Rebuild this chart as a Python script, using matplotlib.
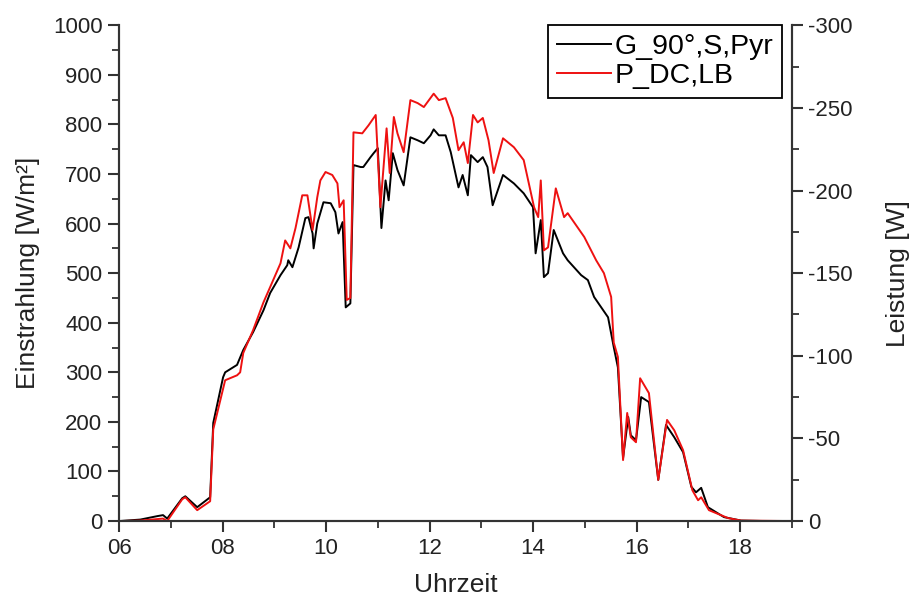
import matplotlib
matplotlib.use("Agg")
import matplotlib.pyplot as plt
from matplotlib.ticker import MultipleLocator, FuncFormatter

plt.rcParams['font.family'] = ['Liberation Sans', 'DejaVu Sans']

# G_90°,S,Pyr irradiance [W/m²]
t_g = [6.00, 6.41, 6.74, 6.85, 6.93, 7.22, 7.28, 7.51, 7.76, 7.82, 8.01, 8.05, 8.28, 8.40,
       8.59, 8.79, 8.92, 9.12, 9.25, 9.27, 9.35, 9.47, 9.60, 9.66, 9.74, 9.76, 9.83, 9.95,
       10.09, 10.18, 10.24, 10.32, 10.38, 10.47, 10.53, 10.67, 10.72, 10.86, 10.92, 11.00,
       11.07, 11.15, 11.21, 11.29, 11.38, 11.50, 11.63, 11.77, 11.89, 12.02, 12.08, 12.18,
       12.31, 12.41, 12.56, 12.64, 12.74, 12.80, 12.93, 13.03, 13.12, 13.22, 13.42, 13.63,
       13.82, 14.00, 14.05, 14.15, 14.21, 14.29, 14.40, 14.58, 14.67, 14.93, 15.06, 15.18,
       15.45, 15.56, 15.64, 15.74, 15.84, 15.89, 15.99, 16.09, 16.24, 16.42, 16.57, 16.73,
       16.90, 17.06, 17.15, 17.25, 17.38, 17.69, 18.02, 18.50, 19.00]
g_irr = [0, 3, 10, 12, 5, 46, 50, 28, 48, 198, 290, 300, 315, 345,
         381, 425, 460, 496, 516, 526, 512, 552, 611, 613, 580, 550, 600, 643,
         641, 623, 580, 603, 431, 439, 718, 714, 714, 734, 742, 752,
         591, 687, 647, 742, 708, 677, 774, 768, 762, 778, 790, 778,
         778, 744, 673, 698, 657, 738, 724, 734, 714, 637, 698, 681,
         661, 633, 540, 607, 492, 500, 587, 540, 526, 496, 486, 452,
         411, 351, 310, 127, 210, 173, 163, 250, 240, 83, 194, 169,
         139, 69, 58, 67, 28, 8, 1, 0, 0]

# P_DC,LB power [W]
t_p = [6.00, 6.41, 6.74, 6.85, 6.93, 7.22, 7.28, 7.51, 7.76, 7.82, 8.05, 8.28, 8.34, 8.40,
       8.59, 8.79, 8.92, 9.12, 9.21, 9.31, 9.41, 9.54, 9.64, 9.74, 9.83, 9.89, 9.99, 10.12,
       10.22, 10.26, 10.34, 10.40, 10.47, 10.53, 10.70, 10.82, 10.96, 11.05, 11.17, 11.23,
       11.31, 11.38, 11.50, 11.63, 11.77, 11.89, 12.08, 12.18, 12.31, 12.45, 12.56, 12.66,
       12.74, 12.84, 12.93, 13.03, 13.14, 13.24, 13.42, 13.63, 13.82, 14.02, 14.10, 14.15,
       14.21, 14.29, 14.44, 14.60, 14.67, 14.99, 15.22, 15.37, 15.51, 15.56, 15.64, 15.74,
       15.82, 15.89, 15.99, 16.07, 16.24, 16.42, 16.59, 16.73, 16.90, 17.08, 17.19, 17.25,
       17.40, 17.77, 18.02, 19.00]
p_dc = [0, -0.3, -1.2, -1.5, 0, -13.2, -14.4, -6.6, -12.0, -55.5, -85.2, -88.2, -90.0, -101.7,
        -115.5, -132.3, -141.6, -156.0, -169.8, -165.0, -177.3, -197.1, -197.1, -176.1, -195.9, -206.1, -211.2, -209.4,
        -204.3, -189.9, -194.1, -133.8, -135.0, -235.2, -234.6, -239.4, -245.7, -189.9, -237.6, -210.6,
        -244.5, -234.6, -223.2, -254.7, -252.9, -250.5, -258.6, -254.7, -255.9, -243.9, -224.4, -229.2,
        -216.6, -245.7, -241.2, -243.9, -230.4, -210.6, -231.6, -226.2, -218.4, -189.9, -183.9, -206.1,
        -163.8, -165.6, -201.3, -183.9, -186.3, -171.9, -157.8, -150.0, -135.6, -108.0, -99.3, -36.9,
        -65.4, -50.7, -47.7, -86.4, -77.4, -24.9, -61.2, -54.9, -42.9, -18.6, -12.6, -14.4,
        -6.6, -1.8, -0.3, 0]

x_ticks = [6, 8, 10, 12, 14, 16, 18]
x_ticklabels = ['06', '08', '10', '12', '14', '16', '18']

fig = plt.figure(figsize=(9.09, 6.01), dpi=100)
ax = fig.add_axes([0.131, 0.133, 0.740, 0.825])
ax2 = ax.twinx()

spine_col = '#333333'
txt_col = '#222222'
l1, = ax.plot(t_g, g_irr, color='black', lw=1.4, label='G_90°,S,Pyr')
l2, = ax2.plot(t_p, p_dc, color='#ee1111', lw=1.4, label='P_DC,LB')

ax.set_xlim(6, 19)
ax.set_ylim(0, 1000)
ax2.set_ylim(0, -300)

ax.set_xticks(x_ticks)
ax.set_xticklabels(x_ticklabels)
ax.xaxis.set_minor_locator(MultipleLocator(1))
ax.yaxis.set_major_locator(MultipleLocator(100))
ax.yaxis.set_minor_locator(MultipleLocator(50))
ax2.yaxis.set_major_locator(MultipleLocator(50))
ax2.yaxis.set_minor_locator(MultipleLocator(25))
ax2.yaxis.set_major_formatter(FuncFormatter(lambda v, p: f'{int(round(v))}'))

for a in (ax, ax2):
    for s in a.spines.values():
        s.set_color(spine_col)
        s.set_linewidth(1.5)
    a.spines['top'].set_visible(False)
    a.tick_params(which='major', direction='out', length=8, width=1.5, color=spine_col,
                  labelsize=16, labelcolor=txt_col, pad=4)
    a.tick_params(which='minor', direction='out', length=5, width=1.3, color=spine_col)

ax.set_xlabel('Uhrzeit', fontsize=19, color=txt_col, labelpad=10)
ax.set_ylabel('Einstrahlung [W/m²]', fontsize=19, color=txt_col, labelpad=9)
ax2.set_ylabel('Leistung [W]', fontsize=19, color=txt_col, rotation=90, labelpad=24)

leg = ax2.legend(handles=[l1, l2], loc='upper right', bbox_to_anchor=(0.985, 1.0),
                 borderaxespad=0, fontsize=20.5, fancybox=False, framealpha=1,
                 handlelength=1.9, borderpad=0.3, labelspacing=0.12, handletextpad=0.12)
leg.get_frame().set_edgecolor('black')
leg.get_frame().set_linewidth(1.3)

fig.savefig('out.png', dpi=100)
